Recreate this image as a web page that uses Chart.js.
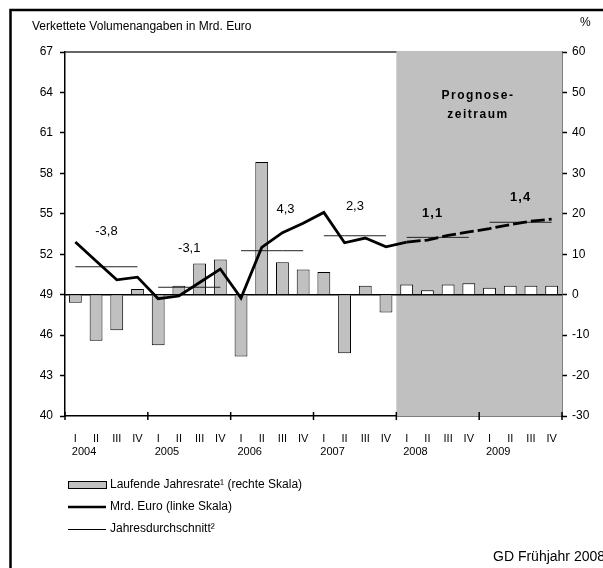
<!DOCTYPE html>
<html>
<head>
<meta charset="utf-8">
<script src="https://cdn.jsdelivr.net/npm/chart.js@4/dist/chart.umd.min.js"></script>
<style>
  html, body { margin: 0; padding: 0; background: #fff; }
  #wrap { position: relative; width: 603px; height: 568px; }
</style>
</head>
<body>
<div id="wrap"><canvas id="gdChart" width="603" height="568"></canvas></div>
<script>
// Kategorien
const years = ['2004', '2005', '2006', '2007', '2008', '2009'];
const quarterNames = ['I', 'II', 'III', 'IV'];
const forecastStart = 16; // erstes Prognosequartal (2008 I)

// Laufende Jahresrate in % (rechte Skala)
const rateValues = [-2.0, -11.4, -8.8, 1.4, -12.5, 2.2, 7.7, 8.7, -15.3, 32.8, 8.0, 6.2,
                    5.6, -14.5, 2.2, -4.4, 2.5, 1.1, 2.5, 2.8, 1.7, 2.2, 2.2, 2.2];
// Mrd. Euro, verkettet (linke Skala)
const volumeValues = [52.9, 51.5, 50.1, 50.3, 48.7, 48.9, 49.9, 50.9, 48.75, 52.5, 53.6, 54.3,
                      55.1, 52.85, 53.2, 52.55, 52.9, 53.05, 53.4, 53.65, 53.9, 54.2, 54.45, 54.6];
// Jahresdurchschnitt (linke Skala) und Veraenderung ggü. Vorjahr
const annualAverage = [51.07, 49.55, 52.26, 53.37, 53.25, 54.37];
const annualGrowth = ['-3,8', '-3,1', '4,3', '2,3', '1,1', '1,4'];

// Skalen
const leftTicks = { min: 40, max: 67, step: 3 };
const rightTicks = { min: -30, max: 60, step: 10 };

const labels = [];
years.forEach(y => quarterNames.forEach(q => labels.push(q)));
const avgPerQuarter = [];
annualAverage.forEach(v => quarterNames.forEach(() => avgPerQuarter.push(v)));

// Lage der Jahreszahlen (linke Skala) und Verschiebung in Quartalen
const growthLabelY = [53.72, 52.46, 55.35, 55.58, 55.06, 56.24];
const growthLabelShift = [0, 0, 0.65, 0, -0.25, 0];

const FONT = '"Liberation Sans", Arial, sans-serif';

const deco = {
    id: 'deco',
    beforeDatasetsDraw(chart) {
        const { ctx, chartArea: a, scales: { x, y2 } } = chart;
        const step = x.getPixelForValue(1) - x.getPixelForValue(0);
        const x0 = x.getPixelForValue(forecastStart) - step / 2;
        ctx.save();
        // obere Rahmenlinie
        ctx.strokeStyle = '#333';
        ctx.lineWidth = 1.5;
        ctx.beginPath();
        ctx.moveTo(a.left, a.top);
        ctx.lineTo(a.right, a.top);
        ctx.stroke();
        // Prognosezeitraum
        ctx.fillStyle = '#c0c0c0';
        ctx.fillRect(x0, a.top - 1, a.right - x0, a.bottom - a.top + 1);
        // Nulllinie
        const z = y2.getPixelForValue(0);
        ctx.strokeStyle = '#000';
        ctx.lineWidth = 1.5;
        ctx.beginPath();
        ctx.moveTo(a.left, z);
        ctx.lineTo(a.right, z);
        ctx.stroke();
        ctx.restore();
    },
    afterDraw(chart) {
        const { ctx, chartArea: a, scales: { x, y } } = chart;
        const step = x.getPixelForValue(1) - x.getPixelForValue(0);
        ctx.save();

        // Rahmen
        ctx.strokeStyle = '#000';
        ctx.lineWidth = 2.5;
        ctx.strokeRect(10.5, 10, 700, 700);

        ctx.fillStyle = '#000';
        ctx.textBaseline = 'middle';
        ctx.font = '12px ' + FONT;
        ctx.textAlign = 'left';
        ctx.fillText('Verkettete Volumenangaben in Mrd. Euro', 32, 27);
        ctx.fillText('%', 580, 23);

        // Jahresmarken an der x-Achse
        ctx.lineWidth = 1.5;
        for (let i = 0; i <= years.length; i++) {
            const px = x.getPixelForValue(i * 4) - step / 2;
            ctx.beginPath();
            ctx.moveTo(px, a.bottom - 4);
            ctx.lineTo(px, a.bottom + 4);
            ctx.stroke();
        }

        // Jahreszahlen
        ctx.font = '11px ' + FONT;
        ctx.textAlign = 'center';
        years.forEach((yr, i) => {
            ctx.fillText(yr, x.getPixelForValue(i * 4) + step * 0.42, 452);
        });

        // Veraenderungsraten
        annualGrowth.forEach((t, i) => {
            const px = x.getPixelForValue(i * 4) + step * (1.5 + growthLabelShift[i]);
            const py = y.getPixelForValue(growthLabelY[i]);
            const bold = i * 4 >= forecastStart;
            ctx.font = (bold ? 'bold 13px ' : '13px ') + FONT;
            ctx.letterSpacing = bold ? '1px' : '0px';
            ctx.fillText(t, px, py);
        });

        // Prognose-Hinweis
        ctx.font = 'bold 12px ' + FONT;
        ctx.letterSpacing = '1.5px';
        ctx.fillText('Prognose-', 478, 96);
        ctx.fillText('zeitraum', 478, 115);
        ctx.letterSpacing = '0px';

        // Legende
        const lx = 68, lw = 38, tx = 110;
        const rows = [485, 507, 529];
        ctx.fillStyle = '#c0c0c0';
        ctx.fillRect(lx, rows[0] - 3, lw, 6);
        ctx.lineWidth = 1;
        ctx.strokeRect(lx + 0.5, rows[0] - 3.5, lw, 7);
        ctx.lineWidth = 2.5;
        ctx.beginPath(); ctx.moveTo(lx, rows[1]); ctx.lineTo(lx + lw, rows[1]); ctx.stroke();
        ctx.lineWidth = 1;
        ctx.beginPath(); ctx.moveTo(lx, rows[2] + 0.5); ctx.lineTo(lx + lw, rows[2] + 0.5); ctx.stroke();
        ctx.fillStyle = '#000';
        ctx.font = '12px ' + FONT;
        ctx.textAlign = 'left';
        ctx.fillText('Laufende Jahresrate\u00b9 (rechte Skala)', tx, rows[0]);
        ctx.fillText('Mrd. Euro (linke Skala)', tx, rows[1]);
        ctx.fillText('Jahresdurchschnitt\u00b2', tx, rows[2]);

        ctx.font = '14px ' + FONT;
        ctx.fillText('GD Fr\u00fchjahr 2008', 493, 557);
        ctx.restore();
    }
};

new Chart(document.getElementById('gdChart'), {
    type: 'bar',
    data: {
        labels: labels,
        datasets: [
            {
                type: 'line',
                label: 'Mrd. Euro (linke Skala)',
                data: volumeValues,
                yAxisID: 'y',
                borderColor: '#000',
                borderWidth: 2.8,
                pointRadius: 0,
                tension: 0,
                order: 0,
                segment: {
                    borderDash: c => c.p0DataIndex >= forecastStart ? [14, 4] : undefined
                }
            },
            {
                type: 'line',
                label: 'Jahresdurchschnitt',
                data: avgPerQuarter,
                yAxisID: 'y',
                borderColor: '#222',
                borderWidth: 1,
                pointRadius: 0,
                order: 1,
                segment: {
                    borderColor: c => c.p0DataIndex % 4 === 3 ? 'rgba(0,0,0,0)' : '#222'
                }
            },
            {
                label: 'Laufende Jahresrate (rechte Skala)',
                data: rateValues,
                yAxisID: 'y2',
                backgroundColor: rateValues.map((v, i) => i >= forecastStart ? '#ffffff' : '#c0c0c0'),
                borderColor: '#000',
                borderWidth: 1,
                barPercentage: 0.62,
                categoryPercentage: 1,
                order: 2
            }
        ]
    },
    options: {
        responsive: false,
        animation: false,
        layout: { padding: { top: 52, left: 0, right: 0, bottom: 0 } },
        plugins: {
            legend: { display: false },
            tooltip: { enabled: false }
        },
        scales: {
            x: {
                grid: { display: false, drawTicks: false },
                border: { color: '#000', width: 1.5 },
                ticks: { color: '#000', font: { size: 11, family: FONT }, padding: 16, maxRotation: 0, autoSkip: false },
                afterFit(s) { s.height = 152; }
            },
            y: {
                position: 'left',
                min: leftTicks.min,
                max: leftTicks.max,
                ticks: { stepSize: leftTicks.step, color: '#000', font: { size: 12, family: FONT }, padding: 7 },
                grid: { drawOnChartArea: false, tickLength: 5, tickColor: '#000', tickWidth: 1.5 },
                border: { color: '#000', width: 1.5 },
                afterFit(s) { s.width = 65; }
            },
            y2: {
                position: 'right',
                min: rightTicks.min,
                max: rightTicks.max,
                ticks: { stepSize: rightTicks.step, color: '#000', font: { size: 12, family: FONT }, padding: 5 },
                grid: { drawOnChartArea: false, tickLength: 5, tickColor: '#000', tickWidth: 1.5 },
                border: { color: '#000', width: 1.5 },
                afterFit(s) { s.width = 41; }
            }
        }
    },
    plugins: [deco]
});
</script>
</body>
</html>
